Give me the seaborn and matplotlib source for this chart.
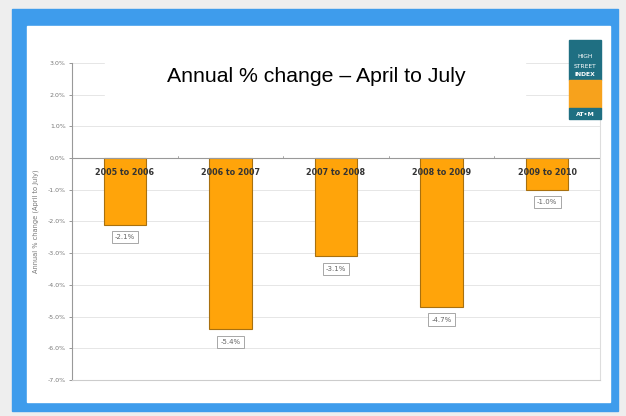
import matplotlib.pyplot as plt
import matplotlib.patches as mpatches
import seaborn as sns
import pandas as pd

# data (percent)
periods = ["2005 to 2006", "2006 to 2007", "2007 to 2008", "2008 to 2009", "2009 to 2010"]
change = [-2.1, -5.4, -3.1, -4.7, -1.0]
yticks = [3, 2, 1, 0, -1, -2, -3, -4, -5, -6, -7]

df = pd.DataFrame({"period": periods, "change": change})

sns.set_style("white")
plt.rcParams['font.family'] = ['DejaVu Sans']

fig = plt.figure(figsize=(6.26, 4.16), dpi=100)
fig.patch.set_facecolor("#eeeeee")

W, H = 626, 416
def px(x0, y0, x1, y1):
    # pixel box -> figure fraction rectangle
    return (x0 / W, 1 - y1 / H), (x1 - x0) / W, (y1 - y0) / H

# blue frame and white panel
xy, w, h = px(12, 9, 618, 411)
fig.patches.append(mpatches.Rectangle(xy, w, h, transform=fig.transFigure, color="#3e9cec", zorder=-2))
xy, w, h = px(27, 26, 610, 402)
fig.patches.append(mpatches.Rectangle(xy, w, h, transform=fig.transFigure, color="white", zorder=-1))

ax = fig.add_axes([72 / W, 1 - 380 / H, 528 / W, 317 / H])
ax.set_facecolor("none")

sns.barplot(data=df, x="period", y="change", ax=ax, color="#ffa40a",
            edgecolor="#a8700f", linewidth=0.8, width=0.4, saturation=1, zorder=3)

ax.set_ylim(-7, 3)
ax.set_xlim(-0.5, 4.5)
ax.set_yticks(yticks)
ax.set_yticklabels([f"{t:.1f}%" for t in yticks], fontsize=4.5, color="#777777")
ax.tick_params(axis="y", length=2.5, width=0.6, color="#888888", pad=2, left=True)
ax.set_xticks([])
ax.set_xlabel("")
ax.set_ylabel("Annual % change (April to July)", fontsize=4.8, color="#777777", labelpad=6)

for t in yticks:
    ax.axhline(t, color="#e6e6e6", lw=0.7, zorder=1)
ax.axhline(0, color="#999999", lw=0.8, zorder=4)
for b in [0.5, 1.5, 2.5, 3.5]:
    ax.plot([b, b], [0, 0.08], color="#999999", lw=0.6, zorder=4)

ax.spines["top"].set_visible(False)
ax.spines["left"].set_color("#999999")
ax.spines["left"].set_linewidth(0.8)
ax.spines["bottom"].set_color("#cccccc")
ax.spines["right"].set_color("#dddddd")
for s in ["bottom", "right"]:
    ax.spines[s].set_linewidth(0.8)

# category labels just under the zero line
for i, p in enumerate(periods):
    ax.text(i, -0.47, p, ha="center", va="center", fontsize=5.8,
            fontweight="bold", color="#333333", zorder=5)

# value boxes under each bar
for i, v in enumerate(change):
    ax.annotate(f"{v:.1f}%", (i, v), xytext=(0, -9), textcoords="offset points",
                ha="center", va="center", fontsize=5, color="#666666", zorder=5,
                bbox=dict(boxstyle="square,pad=0.45", fc="white", ec="#999999", lw=0.6))

# title on a white box covering the top gridlines
fig.patches.append(mpatches.Rectangle(*px(105, 52, 525, 108), transform=fig.transFigure,
                                      color="white", zorder=2))
fig.text(316 / W, 1 - 77 / H, "Annual % change \u2013 April to July", ha="center", va="center",
         fontsize=15.3, color="black", family="Liberation Sans", zorder=3)

# High Street Index logo
fig.patches.append(mpatches.Rectangle(*px(569, 40, 601, 80), transform=fig.transFigure,
                                      color="#1f6f82", zorder=3))
fig.patches.append(mpatches.Rectangle(*px(569, 80, 601, 108), transform=fig.transFigure,
                                      color="#f7a21c", zorder=3))
fig.patches.append(mpatches.Rectangle(*px(569, 108, 601, 119), transform=fig.transFigure,
                                      color="#1f6f82", zorder=3))
for txt, yy, fw in [("HIGH", 57, "normal"), ("STREET", 66, "normal"), ("INDEX", 75, "bold")]:
    fig.text(585 / W, 1 - yy / H, txt, ha="center", va="center", fontsize=4.3,
             color="white", fontweight=fw, zorder=4)
fig.text(585 / W, 1 - 114 / H, "AT\u2022M", ha="center", va="center", fontsize=4.5,
         color="white", fontweight="bold", zorder=4)

fig.savefig("out.png", dpi=100, facecolor=fig.get_facecolor())
